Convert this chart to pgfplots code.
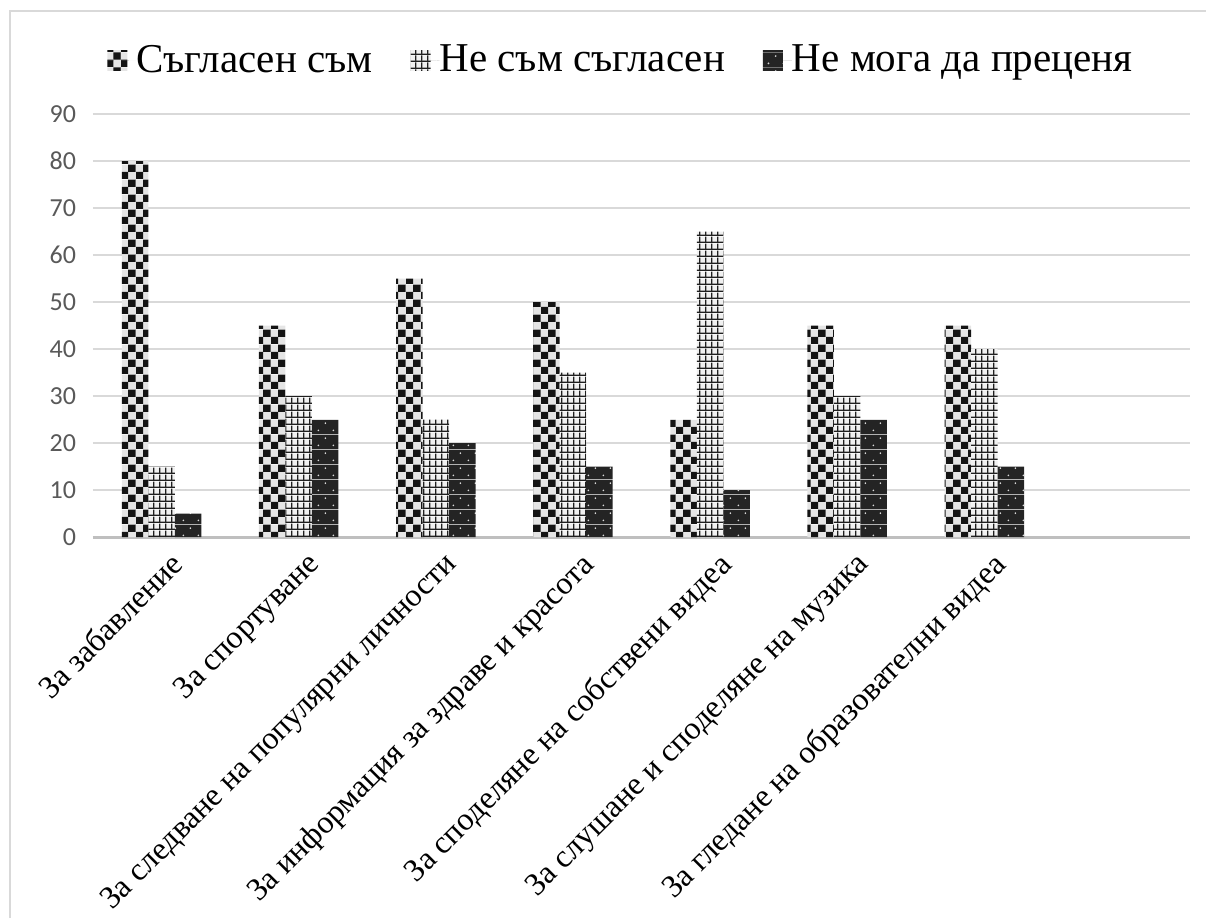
\documentclass[border=0pt]{standalone}
\usepackage{fontspec}
\setmainfont{Liberation Serif}
\newfontfamily\serifcyr{Liberation Serif}
\newfontfamily\calib{Carlito}
\usepackage{pgfplots}
\pgfplotsset{compat=1.18}
\usetikzlibrary{patterns.meta}

\definecolor{gridgray}{HTML}{D9D9D9}
\definecolor{axisgray}{HTML}{BFBFBF}
\definecolor{ticktext}{HTML}{595959}

% checkerboard, grid and dotted fills
\tikzdeclarepattern{
  name=chk,
  type=colored,
  bottom left={(0pt,0pt)}, top right={(7.6pt,7.6pt)},
  tile size={(7.6pt,7.6pt)},
  code={
    \fill[black!10] (0pt,0pt) rectangle (7.6pt,7.6pt);
    \fill[black!92] (0pt,0pt) rectangle (3.8pt,3.8pt);
    \fill[black!92] (3.8pt,3.8pt) rectangle (7.6pt,7.6pt);
  }
}
\tikzdeclarepattern{
  name=grd,
  type=colored,
  bottom left={(0pt,0pt)}, top right={(3.2pt,3.6pt)},
  tile size={(3.2pt,3.6pt)},
  code={
    \fill[black!6] (0pt,0pt) rectangle (3.2pt,3.6pt);
    \fill[black!88] (0pt,0pt) rectangle (3.2pt,0.8pt);
    \fill[black!88] (0pt,0pt) rectangle (0.8pt,3.6pt);
  }
}
\tikzdeclarepattern{
  name=dts,
  type=colored,
  bottom left={(0pt,0pt)}, top right={(7.5pt,7.6pt)},
  tile size={(7.5pt,7.6pt)},
  code={
    \fill[black!86] (0pt,0pt) rectangle (7.5pt,7.6pt);
    \fill[black!15] (1.8pt,1.9pt) circle (0.5pt);
    \fill[black!15] (5.55pt,5.7pt) circle (0.5pt);
  }
}

\tikzset{catlabel/.style={rotate=45, anchor=north east, inner sep=2pt, yshift=-5pt,
    font=\serifcyr\fontsize{16}{18}\selectfont}}

\begin{document}
\begin{tikzpicture}
% frame of the chart (left and top edges only, the rest is cropped)
\draw[gridgray, line width=1pt] (5pt,-459pt) -- (5pt,-5.5pt) -- (603pt,-5.5pt);

\begin{axis}[
    at={(46.5pt,-268.5pt)}, anchor=south west,
    scale only axis,
    width=548.5pt, height=211.5pt,
    ybar=0pt,
    bar width=0.193,
    xmin=-0.5, xmax=7.5,
    ymin=0, ymax=90,
    ytick={0,10,...,90},
    xtick={0,1,2,3,4,5,6},
    xticklabels={},
    yticklabel style={font=\calib\fontsize{13}{15}\selectfont, text=ticktext, /pgf/number format/assume math mode=true},
    major tick length=0pt,
    axis x line=bottom, axis y line=left,
    x axis line style={draw=axisgray, line width=1.5pt, -},
    y axis line style={draw=none},
    ymajorgrids,
    grid style={draw=gridgray, line width=1pt},
    yticklabel shift=5pt,
    clip=false,
    legend columns=3,
    legend style={at={(0.5,1)}, anchor=center, xshift=-10.75pt, yshift=27pt, draw=none, fill=none,
        font=\serifcyr\fontsize{20.5}{24}\selectfont,
        nodes={inner xsep=0pt, inner ysep=2pt},
        /tikz/every even column/.append style={column sep=19pt}},
    legend image code/.code={\path[#1] (0pt,-5pt) rectangle (10pt,5pt); \path (0pt,0pt) -- (14.5pt,0pt);},
]
\addplot[draw=none, pattern=chk] coordinates {(0,80) (1,45) (2,55) (3,50) (4,25) (5,45) (6,45)};
\addplot[draw=none, pattern=grd] coordinates {(0,15) (1,30) (2,25) (3,35) (4,65) (5,30) (6,40)};
\addplot[draw=none, pattern=dts] coordinates {(0,5) (1,25) (2,20) (3,15) (4,10) (5,25) (6,15)};
\legend{Съгласен съм, Не съм съгласен, Не мога да преценя}

% category names
\node[catlabel] at (axis cs:0,0) {За забавление};
\node[catlabel] at (axis cs:1,0) {За спортуване};
\node[catlabel] at (axis cs:2,0) {За следване на популярни личности};
\node[catlabel] at (axis cs:3,0) {За информация за здраве и красота};
\node[catlabel] at (axis cs:4,0) {За споделяне на собствени видеа};
\node[catlabel] at (axis cs:5,0) {За слушане и споделяне на музика};
\node[catlabel] at (axis cs:6,0) {За гледане на образователни видеа};
\end{axis}

\pgfresetboundingbox
\path[use as bounding box] (0pt,0pt) rectangle (603pt,-459pt);
\end{tikzpicture}
\end{document}
